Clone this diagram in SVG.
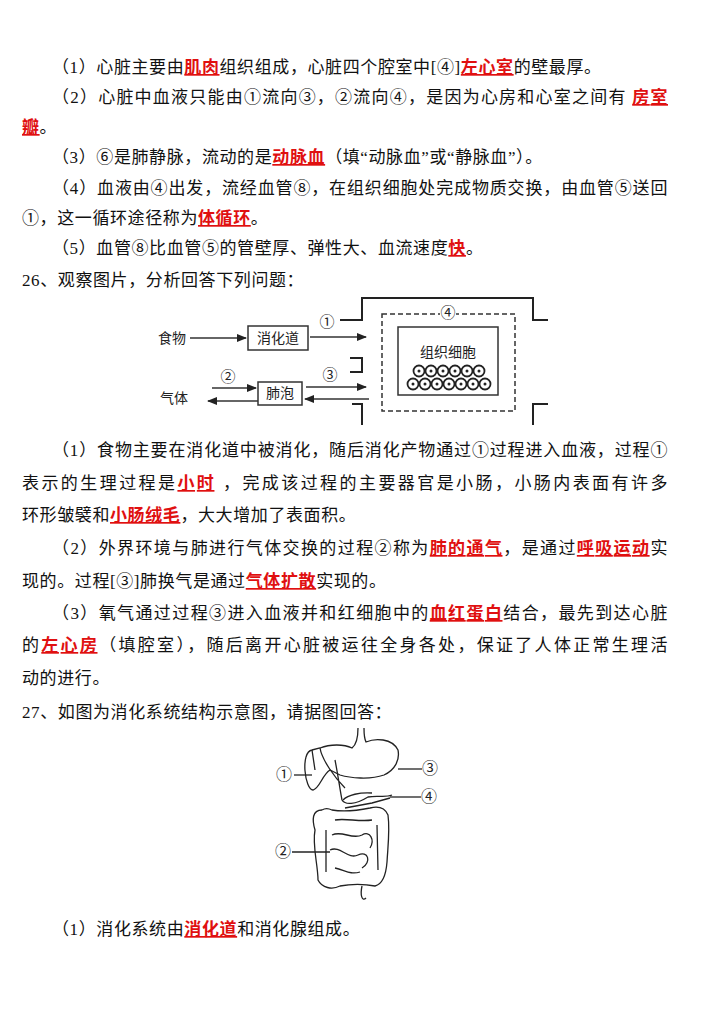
<svg xmlns="http://www.w3.org/2000/svg" width="720" height="1018" viewBox="0 0 720 1018">
<style>
text{font-family:"Liberation Serif","Noto Sans CJK SC",serif;font-size:17px;fill:#111;letter-spacing:0.6px}
.r{fill:#e01010;font-weight:bold;text-decoration:underline;font-family:"Noto Sans CJK SC",sans-serif}
.d{font-family:"Noto Sans CJK SC",sans-serif;font-size:14px;fill:#222;letter-spacing:0}
.c{font-family:"Liberation Serif","Noto Sans CJK SC",serif;font-size:15px;fill:#222;letter-spacing:0}
.l{stroke:#222;stroke-width:2;fill:none}
.o{stroke:#333;stroke-width:1.5;fill:none}
</style>
<defs><marker id="a" viewBox="0 0 10 10" refX="9" refY="5" markerWidth="7" markerHeight="7" orient="auto-start-reverse"><path d="M0,1L10,5L0,9z" fill="#222"/></marker></defs>
<rect width="720" height="1018" fill="#fff"/>
<text x="52" y="73">（1）心脏主要由<tspan class="r">肌肉</tspan>组织组成，心脏四个腔室中[④]<tspan class="r">左心室</tspan>的壁最厚。</text>
<text x="52" y="103" textLength="616" lengthAdjust="spacing">（2）心脏中血液只能由①流向③，②流向④，是因为心房和心室之间有 <tspan class="r">房室</tspan></text>
<text x="22" y="133"><tspan class="r">瓣</tspan>。</text>
<text x="52" y="163">（3）⑥是肺静脉，流动的是<tspan class="r">动脉血</tspan>（填“动脉血”或“静脉血”）。</text>
<text x="52" y="194" textLength="616" lengthAdjust="spacing">（4）血液由④出发，流经血管⑧，在组织细胞处完成物质交换，由血管⑤送回</text>
<text x="22" y="224">①，这一循环途径称为<tspan class="r">体循环</tspan>。</text>
<text x="52" y="254">（5）血管⑧比血管⑤的管壁厚、弹性大、血流速度<tspan class="r">快</tspan>。</text>
<text x="22" y="286">26、观察图片，分析回答下列问题：</text>
<g id="diagram1">
<text class="d" x="158" y="343">食物</text>
<line class="o" x1="190" y1="338" x2="246" y2="338" marker-end="url(#a)"/>
<g id="n-xhd"><rect class="o" x="248" y="326" width="60" height="24"/><text class="d" x="278" y="343" text-anchor="middle">消化道</text></g>
<line class="o" x1="310" y1="337" x2="366" y2="337" marker-end="url(#a)"/>
<text class="c" x="327" y="327" text-anchor="middle">①</text>
<path class="l" d="M340,320H362V298H533V320H548M350,358H362V372H350M352,404H362V425M533,425V404H548"/>
<text class="d" x="160" y="403">气体</text>
<line class="o" x1="212" y1="388" x2="256" y2="388" marker-end="url(#a)"/>
<line class="o" x1="258" y1="401" x2="208" y2="401" marker-end="url(#a)"/>
<text class="c" x="228" y="382" text-anchor="middle">②</text>
<g id="n-fp"><rect class="o" x="258" y="382" width="44" height="23"/><text class="d" x="280" y="398" text-anchor="middle">肺泡</text></g>
<line class="o" x1="306" y1="387" x2="366" y2="387" marker-end="url(#a)"/>
<line class="o" x1="369" y1="399" x2="305" y2="399" marker-end="url(#a)"/>
<text class="c" x="330" y="380" text-anchor="middle">③</text>
<rect x="382" y="314" width="133" height="97" fill="none" stroke="#333" stroke-width="1.5" stroke-dasharray="5,3"/>
<rect x="440" y="305" width="16" height="16" fill="#fff"/>
<text class="c" x="448" y="318" text-anchor="middle">④</text>
<g id="n-cell"><rect class="o" x="398" y="327" width="100" height="68"/><text class="d" x="448" y="357" text-anchor="middle">组织细胞</text>
<g fill="#fff" stroke="#222" stroke-width="1.8">
<circle cx="419" cy="371" r="5.5"/><circle cx="431" cy="371" r="5.5"/><circle cx="443" cy="371" r="5.5"/><circle cx="455" cy="371" r="5.5"/><circle cx="467" cy="371" r="5.5"/><circle cx="479" cy="371" r="5.5"/>
<circle cx="413" cy="384" r="5.5"/><circle cx="425" cy="384" r="5.5"/><circle cx="437" cy="384" r="5.5"/><circle cx="449" cy="384" r="5.5"/><circle cx="461" cy="384" r="5.5"/><circle cx="473" cy="384" r="5.5"/><circle cx="485" cy="384" r="5.5"/>
</g><g fill="#222"><circle cx="419" cy="371" r="1.5"/><circle cx="431" cy="371" r="1.5"/><circle cx="443" cy="371" r="1.5"/><circle cx="455" cy="371" r="1.5"/><circle cx="467" cy="371" r="1.5"/><circle cx="479" cy="371" r="1.5"/><circle cx="413" cy="384" r="1.5"/><circle cx="425" cy="384" r="1.5"/><circle cx="437" cy="384" r="1.5"/><circle cx="449" cy="384" r="1.5"/><circle cx="461" cy="384" r="1.5"/><circle cx="473" cy="384" r="1.5"/><circle cx="485" cy="384" r="1.5"/></g></g>
</g>
<text x="52" y="456" textLength="616" lengthAdjust="spacing">（1）食物主要在消化道中被消化，随后消化产物通过①过程进入血液，过程①</text>
<text x="22" y="489" textLength="646" lengthAdjust="spacing">表示的生理过程是<tspan class="r">小时</tspan> ，完成该过程的主要器官是小肠，小肠内表面有许多</text>
<text x="22" y="521">环形皱襞和<tspan class="r">小肠绒毛</tspan>，大大增加了表面积。</text>
<text x="52" y="554" textLength="616" lengthAdjust="spacing">（2）外界环境与肺进行气体交换的过程②称为<tspan class="r">肺的通气</tspan>，是通过<tspan class="r">呼吸运动</tspan>实</text>
<text x="22" y="587">现的。过程[③]肺换气是通过<tspan class="r">气体扩散</tspan>实现的。</text>
<text x="52" y="619" textLength="616" lengthAdjust="spacing">（3）氧气通过过程③进入血液并和红细胞中的<tspan class="r">血红蛋白</tspan>结合，最先到达心脏</text>
<text x="22" y="651" textLength="646" lengthAdjust="spacing">的<tspan class="r">左心房</tspan>（填腔室），随后离开心脏被运往全身各处，保证了人体正常生理活</text>
<text x="22" y="684">动的进行。</text>
<text x="22" y="718">27、如图为消化系统结构示意图，请据图回答：</text>
<g id="diagram2" stroke="#222" stroke-width="1.3" fill="none">
<path d="M358,728C358,740 356,745 352,748C344,744 330,744 320,748L312,750C300,752 305,790 313,790C320,788 322,775 330,770L340,775C350,778 370,780 384,775C395,770 400,760 398,750C392,738 375,738 366,742C364,738 364,732 364,728"/>
<path d="M312,750L315,770M320,748C322,760 335,778 345,788M335,760C338,775 340,790 342,800C345,805 355,805 368,797C378,795 385,798 392,795"/>
<path d="M343,800C348,795 360,792 372,793M345,808L372,803L390,798"/>
<path d="M322,810C312,810 312,820 315,830C312,845 318,865 318,880C322,888 332,890 340,886C350,884 365,884 375,886C383,884 386,875 387,862C388,845 390,830 388,815C385,808 378,806 370,808C360,810 345,812 332,810C328,808 325,808 322,810"/>
<path d="M335,820C345,818 360,822 372,820M332,835C342,830 352,840 362,835C370,830 375,840 370,848M330,850C340,845 348,860 358,855C368,850 372,862 362,868M335,868C345,870 350,875 360,872M377,825L378,870M326,830L326,872"/>
<path d="M362,886C360,895 362,902 366,898"/>
<g stroke="#222" stroke-width="1.3">
<line x1="294" y1="775" x2="312" y2="775"/><line x1="398" y1="769" x2="422" y2="769"/><line x1="390" y1="797" x2="421" y2="797"/><line x1="292" y1="852" x2="330" y2="852"/>
</g>
</g>
<g><text class="c" x="284" y="780" text-anchor="middle" style="font-size:16px">①</text><text class="c" x="430" y="774" text-anchor="middle" style="font-size:16px">③</text><text class="c" x="429" y="802" text-anchor="middle" style="font-size:16px">④</text><text class="c" x="283" y="857" text-anchor="middle" style="font-size:16px">②</text></g>
<text x="52" y="935">（1）消化系统由<tspan class="r">消化道</tspan>和消化腺组成。</text>
</svg>
